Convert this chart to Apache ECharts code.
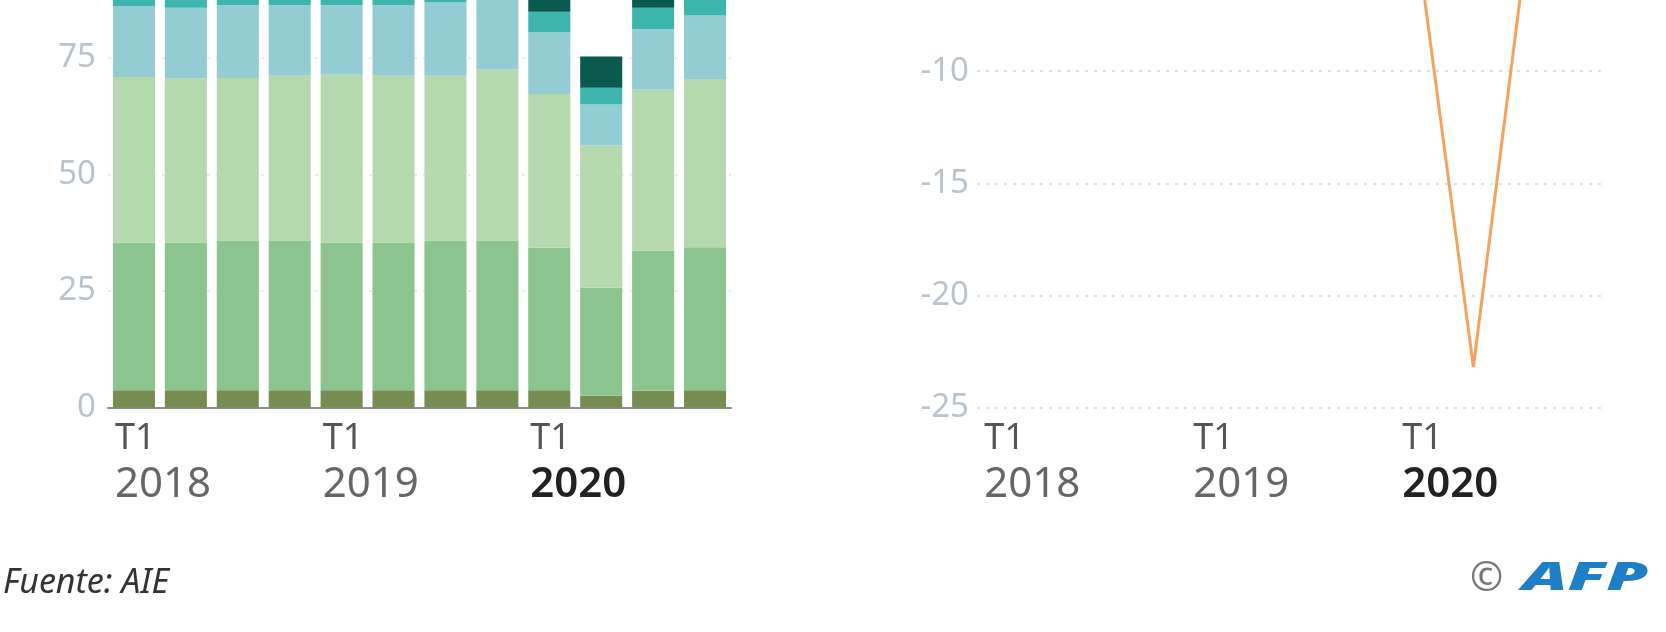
<!DOCTYPE html>
<html>
<head>
<meta charset="utf-8">
<script src="https://cdn.jsdelivr.net/npm/echarts@6/dist/echarts.min.js"></script>
<style>
html,body{margin:0;padding:0;background:#fff;}
#c{width:1666px;height:632px;}
</style>
</head>
<body>
<div id="c"></div>
<script>
// ---- data ----
const quarters = ['T1 2018','T2 2018','T3 2018','T4 2018','T1 2019','T2 2019','T3 2019','T4 2019','T1 2020','T2 2020','T3 2020','T4 2020'];
const seriesNames = ['Serie 1','Serie 2','Serie 3','Serie 4','Serie 5','Serie 6'];
const s1 = [3.7,3.7,3.7,3.7,3.7,3.7,3.7,3.7,3.7,2.5,3.6,3.7];
const s2 = [31.7,31.7,32.1,32.1,31.7,31.7,32.1,32.1,30.6,23.2,30.1,30.7];
const s3 = [35.5,35.2,34.9,35.4,36.0,35.8,35.4,36.8,33.0,30.5,34.5,36.1];
const s4 = [15.2,15.2,15.6,15.1,14.9,15.1,15.7,14.9,13.3,8.8,13.0,13.6];
const s5 = [4.5,4.5,4.5,4.5,4.5,4.5,4.5,4.5,4.3,3.6,4.6,4.5];
const s6 = [7,7,7,7,7,7,7,7,7,6.7,7,7];
const change = [2.1,2.4,2.6,1.9,1.2,0.8,1.0,0.5,-5.6,-23.2,-4.8,-3.0];
const leftTicks = [0,25,50,75,100];
const rightTicks = [-25,-20,-15,-10,-5,0,5];
const sourceText = 'Fuente: AIE';

const colors = ['#768c50','#8bc48f','#b5d8ae','#93cdd3','#3db5ad','#0b5a50'];
const stacks = [s1,s2,s3,s4,s5,s6];

const labelRich = {
  t: {fontFamily:'Noto Sans', fontSize:36, color:'#555', lineHeight:43},
  y: {fontFamily:'Noto Sans', fontSize:42, color:'#666', lineHeight:50},
  yb: {fontFamily:'Noto Sans', fontSize:42, color:'#222', fontWeight:600, lineHeight:50}
};
function xFmt(v, idx){
  const parts = v.split(' ');
  if (parts[0] !== 'T1') return '';
  const st = parts[1] === '2020' ? 'yb' : 'y';
  return '{t|' + parts[0] + '}\n{' + st + '|' + parts[1] + '}';
}
function xAxisCfg(gi, showLine){
  return {
    type:'category', gridIndex:gi, data:quarters,
    axisLine:{show:showLine, lineStyle:{color:'#8d8d8d', width:2}},
    axisTick:{show:false},
    splitLine:{show:false},
    axisLabel:{
      interval:0, formatter:xFmt, rich:labelRich, align:'left',
      padding:[0,0,0,-19], margin:10
    }
  };
}
const yLabelStyle = {fontFamily:'Noto Sans', fontSize:33, color:'#b9c3cc'};

const option = {
  animation:false,
  backgroundColor:'#fff',
  grid:[
    {left:108, width:623, top:-58.5, height:466, outerBoundsMode:'none', containLabel:false},
    {left:977, width:627, top:-265.1, height:672.6, outerBoundsMode:'none', containLabel:false}
  ],
  xAxis:[ xAxisCfg(0, true), xAxisCfg(1, false) ],
  yAxis:[
    {type:'value', gridIndex:0, min:leftTicks[0], max:leftTicks[leftTicks.length-1], interval:25,
     axisLine:{show:false}, axisTick:{show:false},
     axisLabel:Object.assign({margin:12}, yLabelStyle),
     splitLine:{lineStyle:{color:'#e2e6ea', type:[3,6], width:1.5}}},
    {type:'value', gridIndex:1, min:rightTicks[0], max:rightTicks[rightTicks.length-1], interval:5,
     axisLine:{show:false}, axisTick:{show:false},
     axisLabel:Object.assign({margin:8}, yLabelStyle),
     splitLine:{lineStyle:{color:'#cfd4d9', type:[3,6], width:1.5}}}
  ],
  series: stacks.map((d,i)=>({
    name:seriesNames[i], type:'bar', stack:'total', xAxisIndex:0, yAxisIndex:0,
    data:d, barCategoryGap:'19%', itemStyle:{color:colors[i]}
  })).concat([{
    name:'Variación', type:'line', xAxisIndex:1, yAxisIndex:1, data:change,
    symbol:'none', lineStyle:{color:'#f5a35c', width:3}, itemStyle:{color:'#f5a35c'}
  }]),
  graphic:[
    {type:'text', left:3, top:566, style:{text:sourceText, fontFamily:'Noto Sans', fontStyle:'italic', fontSize:34, fill:'#333'}},
    {type:'text', left:1470, top:560, style:{text:'©', fontFamily:'Noto Sans', fontSize:40, fill:'#777'}},
    {type:'text', x:1522, y:560, scaleX:1.78, style:{text:'AFP', fontFamily:'Noto Sans', fontStyle:'italic', fontWeight:900, fontSize:38, fill:'#1e7fc6'}}
  ]
};
const chart = echarts.init(document.getElementById('c'), null, {renderer:'canvas'});
chart.setOption(option);
</script>
</body>
</html>
